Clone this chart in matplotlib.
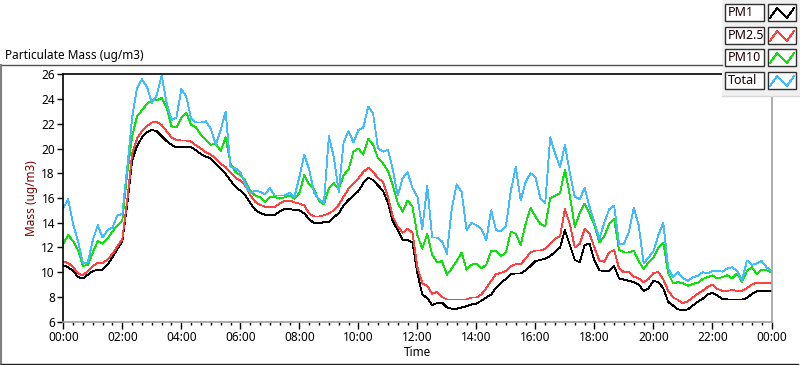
import matplotlib
matplotlib.use("Agg")
import matplotlib.pyplot as plt
from matplotlib.patches import Rectangle
from matplotlib.lines import Line2D
from matplotlib.ticker import MultipleLocator

plt.rcParams['font.family'] = ['Noto Sans', 'DejaVu Sans']

minutes = list(range(0, 1441, 10))

pm1 = [10.55, 10.4, 10.1, 9.6, 9.5, 9.8, 10.1, 10.2, 10.2, 10.6, 11.2, 11.9, 12.5, 15.5, 19.0, 20.2, 20.9, 21.3, 21.5, 21.4, 21.0, 20.6, 20.3, 20.1,
       20.1, 20.1, 20.1, 19.85, 19.55, 19.35, 19.2, 18.75, 18.4, 17.95, 17.4, 16.9, 16.6, 16.2, 15.6, 15.05, 14.8, 14.65, 14.6, 14.65, 14.9, 15.1, 15.15, 15.0,
       15.0, 14.75, 14.3, 13.95, 13.95, 14.05, 14.05, 14.45, 14.75, 15.4, 15.85, 16.2, 16.55, 17.2, 17.65, 17.45, 17.0, 16.6, 15.6, 14.1, 13.4, 12.6, 12.6, 12.4,
       9.9, 8.2, 7.9, 7.35, 7.5, 7.55, 7.15, 7.05, 7.05, 7.15, 7.25, 7.4, 7.45, 7.7, 7.95, 8.2, 8.75, 9.15, 9.45, 9.85, 9.9, 9.9, 10.15, 10.5,
       10.9, 11.0, 11.1, 11.3, 11.65, 12.0, 13.4, 12.2, 11.0, 10.8, 12.2, 12.3, 10.95, 10.15, 10.1, 10.1, 10.5, 9.5, 9.4, 9.3, 9.2, 9.0, 8.5, 8.7,
       9.3, 9.2, 8.7, 7.6, 7.3, 7.0, 6.9, 7.0, 7.3, 7.6, 7.85, 8.2, 8.35, 8.1, 7.85, 7.8, 7.8, 7.8, 7.8, 7.9, 8.25, 8.45, 8.45, 8.45, 8.45]

pm25 = [10.85, 10.75, 10.4, 9.9, 9.75, 10.1, 10.5, 10.75, 10.75, 11.0, 11.5, 12.1, 12.7, 15.8, 19.6, 20.8, 21.4, 21.8, 22.1, 22.15, 21.9, 21.4, 20.9, 20.7,
        20.65, 20.65, 20.55, 20.25, 20.0, 19.7, 19.5, 19.2, 18.75, 18.5, 18.05, 17.65, 17.4, 17.0, 16.25, 15.7, 15.45, 15.3, 15.25, 15.3, 15.55, 15.75, 15.8, 15.65,
        15.55, 15.4, 14.75, 14.5, 14.5, 14.6, 14.75, 15.0, 15.45, 16.1, 16.75, 17.2, 17.6, 18.1, 18.45, 18.1, 17.6, 17.3, 16.1, 14.5, 13.7, 13.2, 13.5, 13.2,
        10.4, 9.1, 8.9, 8.25, 8.4, 8.0, 7.8, 7.8, 7.8, 7.8, 7.8, 7.95, 7.95, 8.2, 8.7, 9.3, 9.85, 9.95, 10.1, 10.5, 10.65, 10.65, 11.1, 11.6,
        11.75, 11.75, 11.9, 12.3, 12.7, 12.9, 15.1, 13.9, 12.0, 12.3, 13.5, 13.1, 12.0, 10.95, 10.85, 11.6, 11.8, 10.3, 10.0, 10.0, 9.65, 9.5, 9.2, 9.45,
        9.95, 10.0, 9.4, 8.5, 7.95, 7.75, 7.5, 7.65, 7.95, 8.25, 8.5, 8.8, 9.0, 8.65, 8.5, 8.5, 8.55, 8.5, 8.5, 8.7, 9.0, 9.15, 9.15, 9.15, 9.15]

pm10 = [12.3, 13.0, 12.5, 11.8, 10.5, 10.6, 11.6, 12.5, 12.3, 12.7, 13.3, 13.8, 14.2, 18.0, 21.0, 22.6, 23.1, 23.6, 23.9, 23.9, 24.1, 23.3, 21.8, 21.7,
        22.5, 22.9, 21.9, 21.7, 21.1, 20.7, 20.3, 20.4, 19.8, 20.9, 18.8, 18.1, 17.85, 17.4, 16.6, 16.2, 16.05, 15.7, 16.1, 16.1, 15.95, 16.05, 16.2, 15.95,
        16.4, 17.85, 17.1, 16.7, 15.75, 15.5, 16.8, 17.2, 16.7, 17.85, 18.3, 19.75, 20.0, 19.5, 20.8, 20.3, 19.2, 18.8, 18.2, 17.0, 15.6, 14.9, 15.8, 15.3,
        13.0, 11.9, 13.1, 11.4, 10.8, 10.9, 9.8, 10.3, 10.9, 11.6, 10.2, 10.6, 10.7, 10.3, 10.6, 11.7, 11.7, 11.3, 11.6, 13.3, 13.1, 12.2, 13.9, 15.2,
        14.5, 13.9, 13.7, 16.0, 16.2, 16.4, 18.3, 16.2, 13.65, 14.8, 15.55, 14.7, 13.8, 12.4, 12.9, 13.9, 14.3, 11.8, 11.6, 11.6, 11.75, 10.9, 10.25, 10.8,
        11.2, 12.0, 12.4, 9.9, 9.1, 9.2, 9.1, 8.9, 9.05, 9.15, 9.45, 9.6, 9.75, 9.5, 9.6, 9.75, 9.5, 9.9, 9.2, 10.1, 10.4, 9.85, 10.2, 10.15, 10.0]

total = [15.2, 15.9, 13.9, 12.5, 10.7, 10.8, 12.6, 13.8, 12.8, 13.4, 13.6, 14.6, 14.7, 18.5, 22.5, 24.9, 25.6, 25.0, 23.7, 24.3, 25.9, 23.7, 22.3, 22.5,
         24.8, 24.2, 22.4, 22.1, 22.1, 22.2, 21.6, 20.3, 21.5, 23.0, 18.5, 18.4, 18.1, 17.1, 16.4, 16.6, 16.5, 16.3, 16.8, 16.2, 16.2, 16.2, 16.4, 16.1,
         17.7, 19.5, 18.3, 16.4, 15.9, 15.6, 21.0, 19.3, 16.5, 20.5, 21.4, 20.5, 21.5, 21.7, 23.4, 22.8, 20.0, 19.75, 19.9, 18.3, 16.2, 17.6, 18.1, 16.8,
         16.1, 13.5, 17.0, 12.8, 12.8, 12.5, 11.5, 15.2, 17.1, 16.5, 13.4, 14.0, 13.8, 13.5, 12.6, 15.0, 13.4, 13.3, 13.7, 16.6, 18.5, 15.8, 17.3, 18.0,
         17.7, 16.0, 15.6, 20.9, 19.6, 18.5, 20.3, 18.0, 16.1, 15.9, 16.8, 15.3, 14.0, 12.7, 14.0, 15.1, 15.4, 12.3, 12.3, 13.25, 15.2, 13.8, 10.7, 11.2,
         11.7, 13.0, 14.0, 10.3, 9.6, 10.0, 9.5, 9.3, 9.6, 9.7, 10.0, 9.9, 10.1, 10.1, 10.05, 10.3, 10.4, 10.1, 9.3, 10.95, 10.6, 10.7, 10.9, 10.4, 10.1]

series_names = ['PM1', 'PM2.5', 'PM10', 'Total']
series_colors = ['#000000', '#ff4040', '#10e010', '#40bcff']
x_ticks = [0, 2, 4, 6, 8, 10, 12, 14, 16, 18, 20, 22, 24]
x_tick_labels = ['00:00', '02:00', '04:00', '06:00', '08:00', '10:00', '12:00',
                 '14:00', '16:00', '18:00', '20:00', '22:00', '00:00']
y_ticks = [6, 8, 10, 12, 14, 16, 18, 20, 22, 24, 26]

W, H = 800, 365
def fx(x): return x / W
def fy(y): return 1 - y / H

fig = plt.figure(figsize=(8, 3.65), dpi=100)
fig.patch.set_facecolor('white')

ax = fig.add_axes([fx(63.3), fy(321.7), (771.5 - 63.3) / W, (321.7 - 74.3) / H])
hours = [m / 60 for m in minutes]
for vals, c in zip([pm1, pm25, pm10, total], series_colors):
    ax.plot(hours, vals, color=c, lw=0.6, antialiased=False)

ax.set_xlim(0, 24)
ax.set_ylim(6, 26)
ax.set_xticks(x_ticks)
ax.set_xticklabels(x_tick_labels)
ax.xaxis.set_minor_locator(MultipleLocator(1 / 3))
ax.set_yticks(y_ticks)
ax.set_yticklabels([str(v) for v in y_ticks])
ax.tick_params(axis='both', which='major', direction='out', length=4, width=1,
               color='#000000', labelsize=8.5, pad=2, labelcolor='#000000')
ax.tick_params(axis='x', which='minor', direction='out', length=2.5, width=1, color='#000000')
ax.tick_params(axis='x', which='major', length=5)
for s in ['left', 'top']:
    ax.spines[s].set_color('#000000')
    ax.spines[s].set_linewidth(1.2)
for s in ['bottom', 'right']:
    ax.spines[s].set_color('#a0a0a0')
    ax.spines[s].set_linewidth(1.2)

fig.text(fx(417), fy(353), 'Time', ha='center', va='center', fontsize=8.5, color='#000000')
fig.text(fx(31), fy(198), 'Mass (ug/m3)', ha='center', va='center', rotation=90,
         fontsize=8.5, color='#7a0000')

# panel frame and title
fig.text(fx(5), fy(55), 'Particulate Mass (ug/m3)', ha='left', va='center', fontsize=8.5, color='#000000')
fig.add_artist(Line2D([0, fx(722)], [fy(64.5), fy(64.5)], color='#505050', lw=1))
fig.add_artist(Line2D([fx(1), fx(1)], [fy(64.5), fy(364)], color='#808080', lw=1.5))
fig.add_artist(Line2D([fx(1), fx(798)], [fy(364), fy(364)], color='#202020', lw=1))

# legend panel
fig.add_artist(Rectangle((fx(722), fy(96)), (800 - 722) / W, 96 / H, facecolor='#f0f0f0',
                         edgecolor='none', transform=fig.transFigure))
fig.add_artist(Line2D([fx(722), fx(800)], [fy(95.5), fy(95.5)], color='#d8d8d8', lw=1))
row_tops = [4, 27, 49, 72]
for name, c, yt in zip(series_names, series_colors, row_tops):
    fig.add_artist(Rectangle((fx(725), fy(yt + 17)), 39 / W, 17 / H, facecolor='white',
                             edgecolor='#303030', lw=1, transform=fig.transFigure))
    fig.text(fx(727.5), fy(yt + 8.5), name, ha='left', va='center', fontsize=9, color='#1a0000')
    fig.add_artist(Rectangle((fx(768), fy(yt + 17)), 28 / W, 17 / H, facecolor='white',
                             edgecolor='#303030', lw=1, transform=fig.transFigure))
    xs = [770, 777, 787, 794]
    ys = [yt + 14, yt + 4, yt + 14, yt + 4]
    fig.add_artist(Line2D([fx(v) for v in xs], [fy(v) for v in ys], color=c, lw=0.6,
                          antialiased=False))

fig.savefig('out.png', dpi=100)
